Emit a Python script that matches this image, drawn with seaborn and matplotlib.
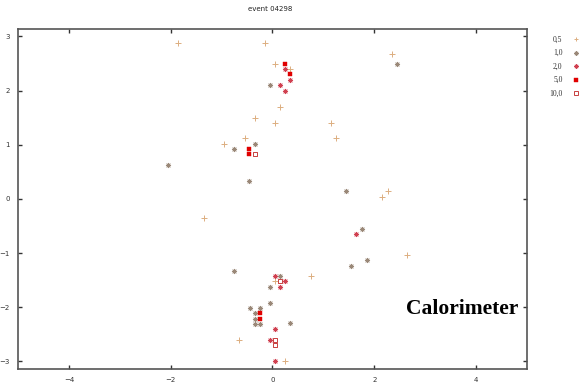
import matplotlib
matplotlib.use("Agg")
import matplotlib.pyplot as plt
import seaborn as sns
import pandas as pd
from matplotlib.lines import Line2D

# ---- data (eta, phi) per energy threshold ----
x_05 = [-1.86, -0.15, 0.045, 0.35, 0.14, -0.35, 0.045, -0.545, -0.95, 2.35, 1.14, 1.25,
        2.26, 2.15, -1.35, 2.65, 0.75, 0.045, -0.66, 0.25]
y_05 = [2.88, 2.88, 2.50, 2.39, 1.70, 1.50, 1.41, 1.12, 1.02, 2.68, 1.41, 1.12,
        0.14, 0.04, -0.35, -1.04, -1.43, -1.52, -2.61, -2.99]

x_10 = [-0.05, -0.76, -0.35, -2.05, -0.46, 2.45, 1.45, 1.75, 1.86, 1.55, 0.34, -0.76,
        0.15, -0.05, -0.05, -0.45, -0.25, -0.35, -0.35, -0.35, -0.25]
y_10 = [2.10, 0.93, 1.02, 0.63, 0.34, 2.49, 0.14, -0.55, -1.13, -1.23, -2.30, -1.33,
        -1.42, -1.62, -1.92, -2.01, -2.01, -2.11, -2.21, -2.31, -2.31]

x_20 = [0.24, 0.34, 0.14, 0.24, 1.65, 0.045, 0.25, 0.15, 0.045, -0.05, 0.045]
y_20 = [2.39, 2.20, 2.10, 2.00, -0.64, -1.42, -1.52, -1.62, -2.41, -2.61, -2.99]

x_50 = [0.24, 0.34, -0.46, -0.46, -0.25, -0.25]
y_50 = [2.50, 2.30, 0.93, 0.83, -2.11, -2.21]

x_100 = [-0.35, 0.15, 0.045, 0.045]
y_100 = [0.83, -1.52, -2.61, -2.70]

labels = ["0,5", "1,0", "2,0", "5,0", "10,0"]
x_ticks = [-4, -2, 0, 2, 4]
y_ticks = [-3, -2, -1, 0, 1, 2, 3]

sns.set_theme(style="white")
plt.rcParams["font.family"] = ["DejaVu Sans"]

fig = plt.figure(figsize=(5.81, 3.85), dpi=100)
ax = fig.add_axes([0.031, 0.0416, 0.876, 0.8834])

groups = [
    (x_05, y_05, "+", "#dcae80", 16, 0.7, True),
    (x_10, y_10, (8, 2, 0), "#9a8878", 10, 0.6, True),
    (x_20, y_20, (8, 2, 0), "#d04050", 10, 0.6, True),
    (x_50, y_50, "s", "#e00000", 9, 0.3, True),
    (x_100, y_100, "s", "#c84040", 9, 0.7, False),
]

handles = []
for (xs, ys, mk, col, s, lw, filled), lab in zip(groups, labels):
    df = pd.DataFrame({"x": xs, "y": ys})
    if filled:
        sns.scatterplot(data=df, x="x", y="y", marker=mk, color=col, s=s,
                        linewidth=lw, edgecolor=col if mk == "s" else None, ax=ax, zorder=3)
        handles.append(Line2D([], [], linestyle="none", marker=mk, color=col,
                              markersize=3.3, markeredgewidth=lw))
    else:
        sns.scatterplot(data=df, x="x", y="y", marker=mk, s=s, facecolor="none",
                        edgecolor=col, linewidth=lw, ax=ax, zorder=3)
        handles.append(Line2D([], [], linestyle="none", marker=mk, markerfacecolor="none",
                              markeredgecolor=col, markersize=3.3, markeredgewidth=lw))

ax.set_xlim(-5, 5)
ax.set_ylim(-3.14, 3.14)
ax.set_xticks(x_ticks)
ax.set_yticks(y_ticks)
ax.set_xlabel("")
ax.set_ylabel("")
ax.tick_params(axis="both", which="both", direction="in", length=3, width=1,
               labelsize=5, colors="#333333", top=True, right=True, bottom=True, left=True,
               labeltop=False, labelright=False, pad=6)
for sp in ax.spines.values():
    sp.set_color("#555555")
    sp.set_linewidth(1.2)

fig.text(0.465, 0.977, "event 04298", fontsize=5, ha="center", va="center", color="#222222")

ax.text(4.83, -2.04, "Calorimeter", fontsize=15.5, fontweight="bold",
        family="Liberation Serif", ha="right", va="center", color="black")

leg = fig.legend(handles, labels, loc="upper left", bbox_to_anchor=(0.94, 0.915),
                 markerfirst=False, frameon=False, fontsize=5.5, labelspacing=0.72,
                 handlelength=1.0, handletextpad=1.3, borderaxespad=0)
for t in leg.get_texts():
    t.set_family("Liberation Serif")
    t.set_color("#333333")
    t.set_ha("right")

fig.savefig("out.png", dpi=100)
